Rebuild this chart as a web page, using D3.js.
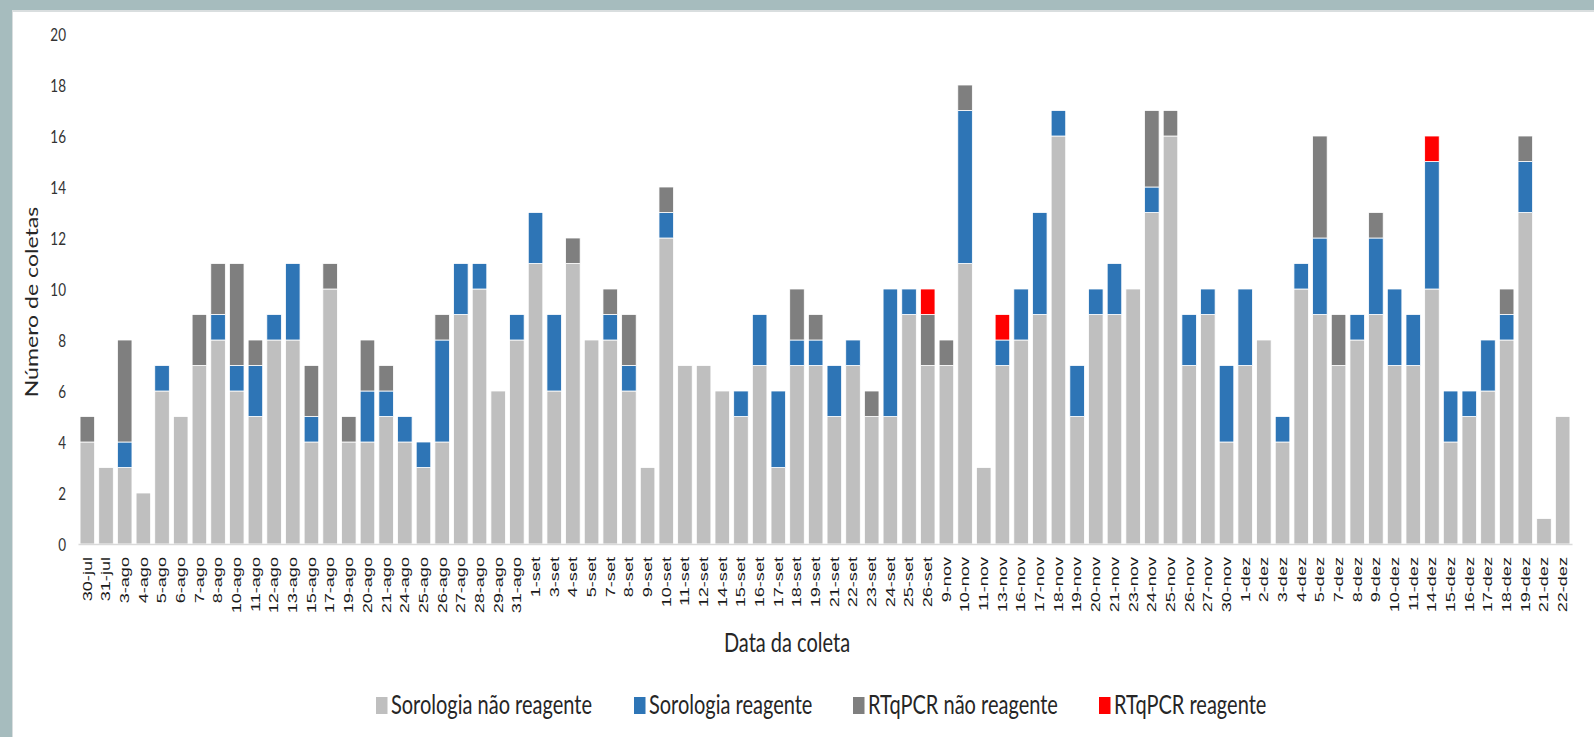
<!DOCTYPE html>
<html>
<head>
<meta charset="utf-8">
<script src="https://cdn.jsdelivr.net/npm/d3@7"></script>
<style>
  html, body { margin: 0; padding: 0; background: #fff; }
  svg { display: block; }
</style>
</head>
<body>
<svg id="chart" width="1594" height="737"></svg>
<script>
const categories = [
  "30-jul","31-jul",
  "3-ago","4-ago","5-ago","6-ago","7-ago","8-ago","10-ago","11-ago","12-ago","13-ago","15-ago","17-ago","19-ago","20-ago","21-ago","24-ago","25-ago","26-ago","27-ago","28-ago","29-ago","31-ago",
  "1-set","3-set","4-set","5-set","7-set","8-set","9-set","10-set","11-set","12-set","14-set","15-set","16-set","17-set","18-set","19-set","21-set","22-set","23-set","24-set","25-set","26-set",
  "9-nov","10-nov","11-nov","13-nov","16-nov","17-nov","18-nov","19-nov","20-nov","21-nov","23-nov","24-nov","25-nov","26-nov","27-nov","30-nov",
  "1-dez","2-dez","3-dez","4-dez","5-dez","7-dez","8-dez","9-dez","10-dez","11-dez","14-dez","15-dez","16-dez","17-dez","18-dez","19-dez","21-dez","22-dez"
];

const sorologiaNaoReagente = [
  4,3,
  3,2,6,5,7,8,6,5,8,8,4,10,4,4,5,4,3,4,9,10,6,8,
  11,6,11,8,8,6,3,12,7,7,6,5,7,3,7,7,5,7,5,5,9,7,
  7,11,3,7,8,9,16,5,9,9,10,13,16,7,9,4,
  7,8,4,10,9,7,8,9,7,7,10,4,5,6,8,13,1,5
];
const sorologiaReagente = [
  0,0,
  1,0,1,0,0,1,1,2,1,3,1,0,0,2,1,1,1,4,2,1,0,1,
  2,3,0,0,1,1,0,1,0,0,0,1,2,3,1,1,2,1,0,5,1,0,
  0,6,0,1,2,4,1,2,1,2,0,1,0,2,1,3,
  3,0,1,1,3,0,1,3,3,2,5,2,1,2,1,2,0,0
];
const rtqpcrNaoReagente = [
  1,0,
  4,0,0,0,2,2,4,1,0,0,2,1,1,2,1,0,0,1,0,0,0,0,
  0,0,1,0,1,2,0,1,0,0,0,0,0,0,2,1,0,0,1,0,0,2,
  1,1,0,0,0,0,0,0,0,0,0,3,1,0,0,0,
  0,0,0,0,4,2,0,1,0,0,0,0,0,0,1,1,0,0
];
const rtqpcrReagente = [
  0,0,
  0,0,0,0,0,0,0,0,0,0,0,0,0,0,0,0,0,0,0,0,0,0,
  0,0,0,0,0,0,0,0,0,0,0,0,0,0,0,0,0,0,0,0,0,1,
  0,0,0,1,0,0,0,0,0,0,0,0,0,0,0,0,
  0,0,0,0,0,0,0,0,0,0,1,0,0,0,0,0,0,0
];

const seriesNames = ["Sorologia não reagente","Sorologia reagente","RTqPCR não reagente","RTqPCR reagente"];
const seriesColors = ["#BFBFBF","#2E75B6","#7F7F7F","#FF0000"];
const yTicks = [0,2,4,6,8,10,12,14,16,18,20];
const yTitle = "Número de coletas";
const xTitle = "Data da coleta";

const svg = d3.select("#chart");
const W = 1594, H = 737;

// frame
svg.append("rect").attr("x",0).attr("y",0).attr("width",W).attr("height",H).attr("fill","#A6BCBE");
svg.append("rect").attr("x",12).attr("y",10).attr("width",W-12).attr("height",H-10).attr("fill","#D9DEDF");
svg.append("rect").attr("x",13).attr("y",12).attr("width",W-13).attr("height",H-12).attr("fill","#FFFFFF");

const keys = ["a","b","c","d"];
const table = categories.map((c,i)=>({
  cat:c, a:sorologiaNaoReagente[i], b:sorologiaReagente[i], c:rtqpcrNaoReagente[i], d:rtqpcrReagente[i]
}));
const stacked = d3.stack().keys(keys)(table);

const x = d3.scaleBand().domain(categories).range([78,1572]).paddingInner(0.22).paddingOuter(0.11);
const y = d3.scaleLinear().domain([0,20]).range([544,34]);
const STRETCH = 1.4;

// bars
svg.append("g").selectAll("g").data(stacked).join("g")
  .attr("fill",(d,i)=>seriesColors[i])
  .selectAll("rect").data(d=>d.filter(s=>s[1]-s[0]>0)).join("rect")
  .attr("x",d=>x(d.data.cat))
  .attr("width",x.bandwidth())
  .attr("y",d=>y(d[1]))
  .attr("height",d=>y(d[0])-y(d[1]))
  .attr("stroke","#FFFFFF").attr("stroke-width",0.8);

// x axis line
const xAxis = d3.axisBottom(x).tickSize(0).tickPadding(0);
const gx = svg.append("g").attr("transform","translate(0,544)").call(xAxis);
gx.select(".domain").attr("stroke","#D9D9D9").attr("stroke-width",1.5);
gx.selectAll(".tick text").remove();
gx.selectAll(".tick").each(function(d){
  d3.select(this).append("text")
    .attr("transform",`translate(0,13) rotate(-90) scale(${1.45},1)`)
    .attr("text-anchor","end")
    .attr("dy","0.35em")
    .attr("font-family","'Liberation Sans', Arial, sans-serif")
    .attr("font-size",12.5)
    .attr("fill","#1a1a1a")
    .text(d);
});

// y axis labels
const yAxis = d3.axisLeft(y).tickValues(yTicks).tickSize(0).tickPadding(0);
const gy = svg.append("g").attr("transform","translate(66,0)").call(yAxis);
gy.select(".domain").remove();
gy.selectAll(".tick text").remove();
gy.selectAll(".tick").append("text")
  .attr("transform",`scale(1,1.3)`)
  .attr("text-anchor","end")
  .attr("dy","0.36em")
  .attr("font-family","Lato, 'Open Sans', sans-serif")
  .attr("font-size",13.5)
  .attr("fill","#333333")
  .text(d=>d);

// y title
svg.append("text")
  .attr("transform",`translate(38,302) rotate(-90) scale(${STRETCH},1)`)
  .attr("text-anchor","middle")
  .attr("font-family","Lato, 'Open Sans', sans-serif")
  .attr("font-size",16.5)
  .attr("fill","#262626")
  .text(yTitle);

// x title
svg.append("text")
  .attr("transform",`translate(787,652) scale(1,1.35)`)
  .attr("text-anchor","middle")
  .attr("font-family","Lato, 'Open Sans', sans-serif")
  .attr("font-size",20)
  .attr("fill","#262626")
  .text(xTitle);

// legend
const legendX = [376, 634, 853, 1099];
const lg = svg.append("g");
seriesNames.forEach((name,i)=>{
  lg.append("rect").attr("x",legendX[i]).attr("y",697).attr("width",11.5).attr("height",17).attr("fill",seriesColors[i]);
  lg.append("text")
    .attr("transform",`translate(${legendX[i]+15},714) scale(1,1.35)`)
    .attr("font-family","Lato, 'Open Sans', sans-serif")
    .attr("font-size",20)
    .attr("fill","#262626")
    .text(name);
});
</script>
</body>
</html>
